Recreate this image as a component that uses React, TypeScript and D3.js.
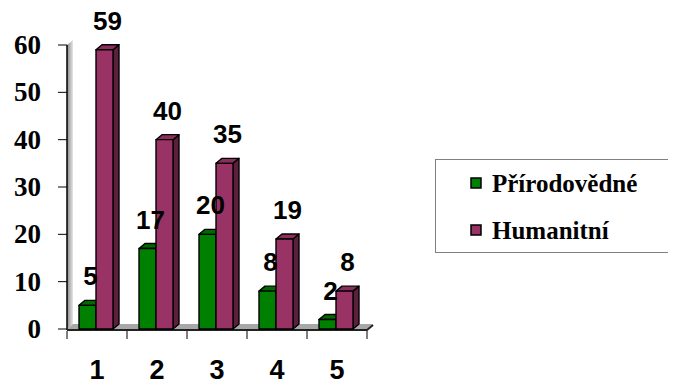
import React from "react";
import * as d3 from "d3";

const categories = ["1", "2", "3", "4", "5"];
const seriesNames = ["Přírodovědné", "Humanitní"];
const prirodovedne = [5, 17, 20, 8, 2];
const humanitni = [59, 40, 35, 19, 8];
const yTicks = [0, 10, 20, 30, 40, 50, 60];

const W = 676, H = 392;
const DX = 6, DY = -5;
const SANS = "Liberation Sans";
const SERIF = "Liberation Serif";

const colors = [
  { front: "#008000", top: "#006a00", side: "#004d00" },
  { front: "#993366", top: "#8c2e5d", side: "#5e1f3e" },
];

export default function App() {
  const x = d3.scaleBand<string>().domain(categories).range([67, 367]).padding(0);
  const xi = d3.scaleBand<string>().domain(seriesNames).range([12, 46]).padding(0);
  const y = d3.scaleLinear().domain([0, 60]).range([329, 45]);
  const values = [prirodovedne, humanitni];
  const y0 = y(0);

  const bars: any[] = [];
  const labels: any[] = [];
  categories.forEach((c, ci) => {
    seriesNames.forEach((s, si) => {
      const v = values[si][ci];
      const bx = (x(c) as number) + (xi(s) as number);
      const bw = xi.bandwidth();
      const by = y(v);
      const col = colors[si];
      const front = `M${bx},${by}H${bx + bw}V${y0}H${bx}Z`;
      const top = `M${bx},${by}L${bx + DX},${by + DY}H${bx + bw + DX}L${bx + bw},${by}Z`;
      const side = `M${bx + bw},${by}L${bx + bw + DX},${by + DY}V${y0 + DY}L${bx + bw},${y0}Z`;
      bars.push(
        <g key={`${c}-${s}`} stroke="#000" strokeWidth={1.4} strokeLinejoin="round">
          <path d={side} fill={col.side} />
          <path d={top} fill={col.top} />
          <path d={front} fill={col.front} />
        </g>
      );
      labels.push(
        <text
          key={`l-${c}-${s}`}
          x={bx + bw / 2 + DX / 2}
          y={by + DY - 15}
          textAnchor="middle"
          style={{ fontFamily: SANS, fontWeight: "bold", fontSize: "26px" }}
          fill="#000"
        >
          {v}
        </text>
      );
    });
  });

  const xL = 67, xR = 367;
  const yTop = y(60);

  return (
    <svg width={W} height={H} style={{ display: "block", margin: "-8px 0 0 -8px" }}>
      <defs>
        <linearGradient id="wallG" x1="0" x2="1" y1="0" y2="0">
          <stop offset="0" stopColor="#8a8a8a" />
          <stop offset="1" stopColor="#e6e6e6" />
        </linearGradient>
      </defs>
      <rect width={W} height={H} fill="#fff" />
      <path d={`M${xL},${y0}V${yTop}L${xL + DX},${yTop + DY}V${y0 + DY}Z`} fill="url(#wallG)" />
      <path d={`M${xL},${y0}H${xR}L${xR + DX},${y0 + DY}H${xL + DX}Z`} fill="#a8a8a8" />
      <line x1={xL} x2={xL} y1={yTop} y2={y0 + 1} stroke="#000" strokeWidth={1.5} />
      <path d={`M${xL},${y0 + 1}H${xR}L${xR + DX},${y0 + DY + 1}`} fill="none" stroke="#222" strokeWidth={2} />
      {yTicks.map((t) => (
        <g key={`yt-${t}`}>
          <line x1={58} x2={xL} y1={y(t)} y2={y(t)} stroke="#000" strokeWidth={1} />
          <text
            x={41}
            y={y(t) + 9}
            textAnchor="end"
            style={{ fontFamily: SERIF, fontWeight: "bold", fontSize: "27px" }}
            fill="#000"
          >
            {t}
          </text>
        </g>
      ))}
      {categories.map((c) => (
        <line key={`xt-${c}`} x1={x(c)} x2={x(c)} y1={y0 + 2} y2={y0 + 10} stroke="#000" strokeWidth={1} />
      ))}
      <line x1={xR} x2={xR} y1={y0 + 2} y2={y0 + 10} stroke="#000" strokeWidth={1} />
      {categories.map((c) => (
        <text
          key={`xl-${c}`}
          x={(x(c) as number) + x.bandwidth() / 2}
          y={379}
          textAnchor="middle"
          style={{ fontFamily: SANS, fontWeight: "bold", fontSize: "27px" }}
          fill="#000"
        >
          {c}
        </text>
      ))}
      {bars}
      {labels}
      <rect x={435.5} y={159.5} width={239} height={93} fill="#fff" stroke="#808080" strokeWidth={1} />
      {seriesNames.map((s, i) => (
        <g key={`lg-${s}`}>
          <rect x={471} y={178 + i * 47} width={10} height={10} fill={colors[i].front} stroke="#000" strokeWidth={1.5} />
          <text
            x={492}
            y={192 + i * 47}
            style={{ fontFamily: SERIF, fontWeight: "bold", fontSize: "25px" }}
            fill="#000"
          >
            {s}
          </text>
        </g>
      ))}
    </svg>
  );
}
